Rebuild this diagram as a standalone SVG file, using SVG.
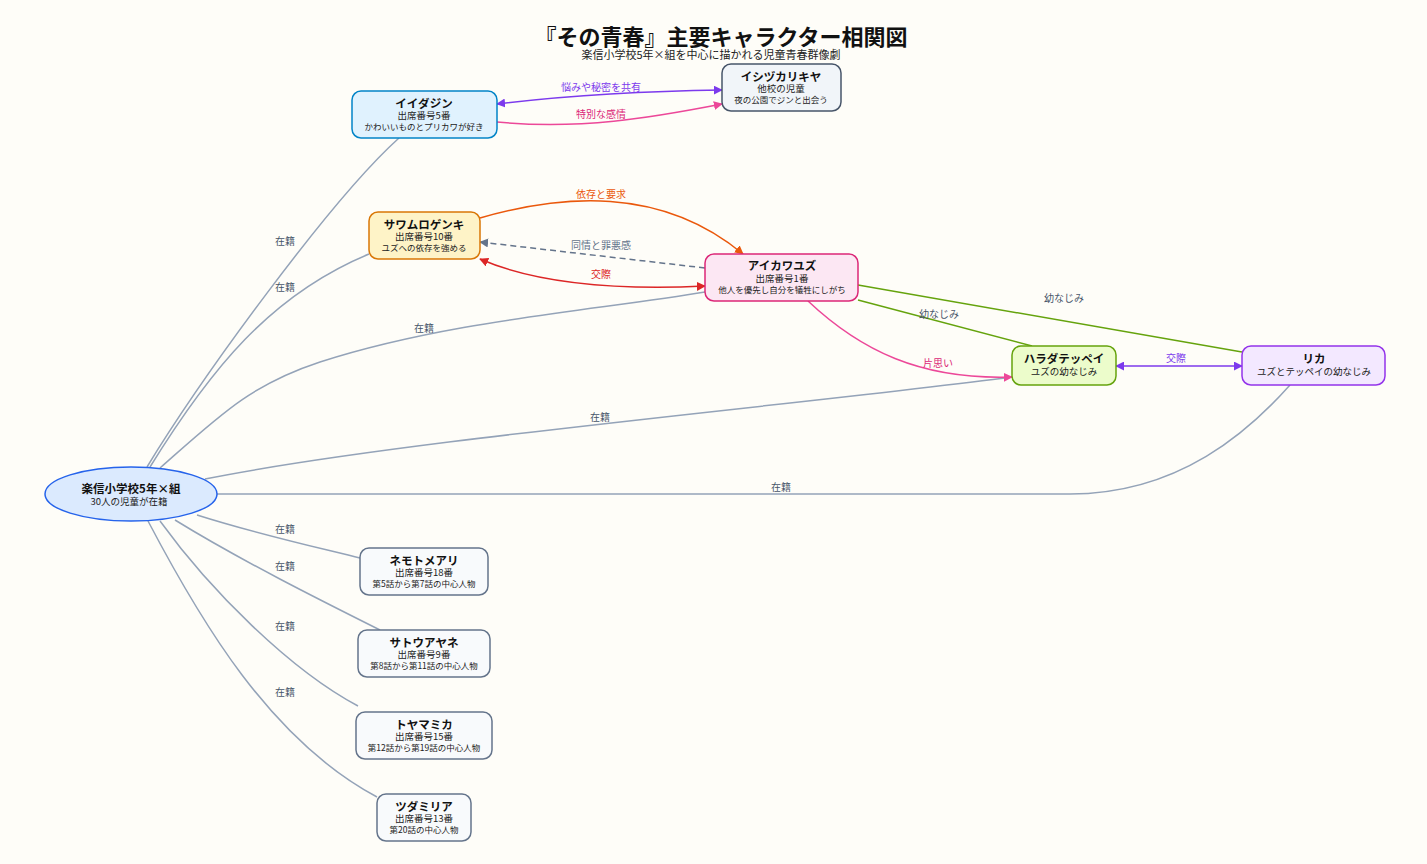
<svg xmlns="http://www.w3.org/2000/svg" width="1427" height="864" viewBox="0 0 1427 864">
<defs>
<style>
text{font-family:"Noto Sans CJK JP","Noto Sans",sans-serif;text-anchor:middle}
.title{font-size:22px;font-weight:bold;fill:#111}
.sub{font-size:11px;fill:#222}
.nm{font-size:11.5px;font-weight:bold;fill:#111}
.l2{font-size:9.5px;fill:#222}
.l3{font-size:8.5px;fill:#222}
.lbl{font-size:10px}
.edge{fill:none;stroke-width:1.5}
.school{stroke:#94a3b8}
</style>
<marker id="aPur" viewBox="0 0 10 10" refX="9" refY="5" markerWidth="9" markerHeight="9" markerUnits="userSpaceOnUse" orient="auto-start-reverse"><path d="M0,0L10,5L0,10z" fill="#7c3aed"/></marker>
<marker id="aPink" viewBox="0 0 10 10" refX="9" refY="5" markerWidth="9" markerHeight="9" markerUnits="userSpaceOnUse" orient="auto-start-reverse"><path d="M0,0L10,5L0,10z" fill="#ec4899"/></marker>
<marker id="aOr" viewBox="0 0 10 10" refX="9" refY="5" markerWidth="9" markerHeight="9" markerUnits="userSpaceOnUse" orient="auto-start-reverse"><path d="M0,0L10,5L0,10z" fill="#ea580c"/></marker>
<marker id="aGray" viewBox="0 0 10 10" refX="9" refY="5" markerWidth="9" markerHeight="9" markerUnits="userSpaceOnUse" orient="auto-start-reverse"><path d="M0,0L10,5L0,10z" fill="#64748b"/></marker>
<marker id="aRed" viewBox="0 0 10 10" refX="9" refY="5" markerWidth="9" markerHeight="9" markerUnits="userSpaceOnUse" orient="auto-start-reverse"><path d="M0,0L10,5L0,10z" fill="#dc2626"/></marker>
</defs>
<rect width="1427" height="864" fill="#fefdf8"/>
<text class="title" x="721" y="45">『その青春』主要キャラクター相関図</text>
<text class="sub" x="711" y="59">楽信小学校5年×組を中心に描かれる児童青春群像劇</text>

<g id="connectors">
<g class="school">
<path class="edge" d="M147,467 C200,380 330,200 399,138"/>
<path class="edge" d="M150,467 C210,370 270,295 369,254"/>
<path class="edge" d="M160,468 C220,415 250,385 320,362 C450,320 600,310 705,292"/>
<path class="edge" d="M205,479 C400,440 800,405 1012,377"/>
<path class="edge" d="M217,494 L1070,494 C1180,494 1250,430 1290,385"/>
<path class="edge" d="M197,515 C260,535 320,548 360,558"/>
<path class="edge" d="M175,520 C240,560 320,600 380,630"/>
<path class="edge" d="M160,521 C210,590 290,670 358,706"/>
<path class="edge" d="M148,521 C200,620 270,740 377,797"/>
</g>
<g fill="#475569">
<text class="lbl" x="285" y="245">在籍</text>
<text class="lbl" x="285" y="291">在籍</text>
<text class="lbl" x="424" y="332">在籍</text>
<text class="lbl" x="600" y="421">在籍</text>
<text class="lbl" x="781" y="491">在籍</text>
<text class="lbl" x="285" y="533">在籍</text>
<text class="lbl" x="285" y="570">在籍</text>
<text class="lbl" x="285" y="630">在籍</text>
<text class="lbl" x="285" y="696">在籍</text>
</g>
<path class="edge" stroke="#7c3aed" d="M497,104 C580,94 650,91 722,90" marker-start="url(#aPur)" marker-end="url(#aPur)"/>
<text class="lbl" fill="#7c3aed" x="601" y="91">悩みや秘密を共有</text>
<path class="edge" stroke="#ec4899" d="M497,122 C580,130 650,118 722,104" marker-end="url(#aPink)"/>
<text class="lbl" fill="#db2777" x="601" y="118">特別な感情</text>
<path class="edge" stroke="#ea580c" d="M480,218 C560,195 660,185 743,254" marker-end="url(#aOr)"/>
<text class="lbl" fill="#ea580c" x="601" y="198">依存と要求</text>
<path class="edge" stroke="#64748b" stroke-dasharray="6,4" d="M705,268 L480,242" marker-end="url(#aGray)"/>
<text class="lbl" fill="#64748b" x="601" y="249">同情と罪悪感</text>
<path class="edge" stroke="#dc2626" d="M480,259 C540,285 620,290 705,286" marker-start="url(#aRed)" marker-end="url(#aRed)"/>
<text class="lbl" fill="#dc2626" x="601" y="278">交際</text>
<path class="edge" stroke="#ec4899" d="M808,301 C860,350 920,380 1012,377" marker-end="url(#aPink)"/>
<text class="lbl" fill="#db2777" x="938" y="367">片思い</text>
<path class="edge" stroke="#65a30d" d="M858,300 L1032,346"/>
<text class="lbl" fill="#475569" x="939" y="318">幼なじみ</text>
<path class="edge" stroke="#65a30d" d="M858,285 L1242,352"/>
<text class="lbl" fill="#475569" x="1064" y="302">幼なじみ</text>
<path class="edge" stroke="#7c3aed" d="M1116,366 L1242,366" marker-start="url(#aPur)" marker-end="url(#aPur)"/>
<text class="lbl" fill="#7c3aed" x="1176" y="362">交際</text>
</g>

<g id="school">
<ellipse cx="131" cy="494" rx="86" ry="27" fill="#dbeafe" stroke="#2563eb" stroke-width="1.5"/>
<text class="nm" x="131" y="493">楽信小学校5年×組</text>
<text class="l2" x="129" y="505">30人の児童が在籍</text>
</g>
<g id="iida">
<rect x="352" y="91" width="145" height="47" rx="9" fill="#e0f2fe" stroke="#0284c7" stroke-width="1.5"/>
<text class="nm" x="424" y="107.5">イイダジン</text>
<text class="l2" x="424" y="119">出席番号5番</text>
<text class="l3" x="424" y="130">かわいいものとプリカワが好き</text>
</g>
<g id="ishizuka">
<rect x="722" y="64" width="119" height="47" rx="9" fill="#f1f5f9" stroke="#475569" stroke-width="1.5"/>
<text class="nm" x="781" y="80.5">イシヅカリキヤ</text>
<text class="l2" x="781" y="92">他校の児童</text>
<text class="l3" x="781" y="103">夜の公園でジンと出会う</text>
</g>
<g id="sawamuro">
<rect x="369" y="212" width="111" height="47" rx="9" fill="#fef3c7" stroke="#d97706" stroke-width="1.5"/>
<text class="nm" x="424" y="228.5">サワムロゲンキ</text>
<text class="l2" x="424" y="240">出席番号10番</text>
<text class="l3" x="424" y="251">ユズへの依存を強める</text>
</g>
<g id="aikawa">
<rect x="705" y="254" width="153" height="47" rx="9" fill="#fce7f3" stroke="#db2777" stroke-width="1.5"/>
<text class="nm" x="782" y="270">アイカワユズ</text>
<text class="l2" x="782" y="282">出席番号1番</text>
<text class="l3" x="782" y="293">他人を優先し自分を犠牲にしがち</text>
</g>
<g id="harada">
<rect x="1012" y="346" width="104" height="39" rx="9" fill="#ecfccb" stroke="#65a30d" stroke-width="1.5"/>
<text class="nm" x="1064" y="363">ハラダテッペイ</text>
<text class="l2" x="1064" y="375">ユズの幼なじみ</text>
</g>
<g id="rika">
<rect x="1242" y="346" width="143" height="39" rx="9" fill="#f3e8ff" stroke="#9333ea" stroke-width="1.5"/>
<text class="nm" x="1314" y="363">リカ</text>
<text class="l2" x="1314" y="375">ユズとテッペイの幼なじみ</text>
</g>
<g id="nemoto">
<rect x="360" y="548" width="128" height="47" rx="9" fill="#f8fafc" stroke="#64748b" stroke-width="1.5"/>
<text class="nm" x="424" y="564.5">ネモトメアリ</text>
<text class="l2" x="424" y="576">出席番号18番</text>
<text class="l3" x="424" y="587">第5話から第7話の中心人物</text>
</g>
<g id="sato">
<rect x="358" y="630" width="132" height="47" rx="9" fill="#f8fafc" stroke="#64748b" stroke-width="1.5"/>
<text class="nm" x="424" y="646.5">サトウアヤネ</text>
<text class="l2" x="424" y="658">出席番号9番</text>
<text class="l3" x="424" y="669">第8話から第11話の中心人物</text>
</g>
<g id="toyama">
<rect x="356" y="712" width="136" height="47" rx="9" fill="#f8fafc" stroke="#64748b" stroke-width="1.5"/>
<text class="nm" x="424" y="728.5">トヤマミカ</text>
<text class="l2" x="424" y="740">出席番号15番</text>
<text class="l3" x="424" y="751">第12話から第19話の中心人物</text>
</g>
<g id="tsuda">
<rect x="377" y="794" width="94" height="47" rx="9" fill="#f8fafc" stroke="#64748b" stroke-width="1.5"/>
<text class="nm" x="424" y="810.5">ツダミリア</text>
<text class="l2" x="424" y="822">出席番号13番</text>
<text class="l3" x="424" y="833">第20話の中心人物</text>
</g>
</svg>
